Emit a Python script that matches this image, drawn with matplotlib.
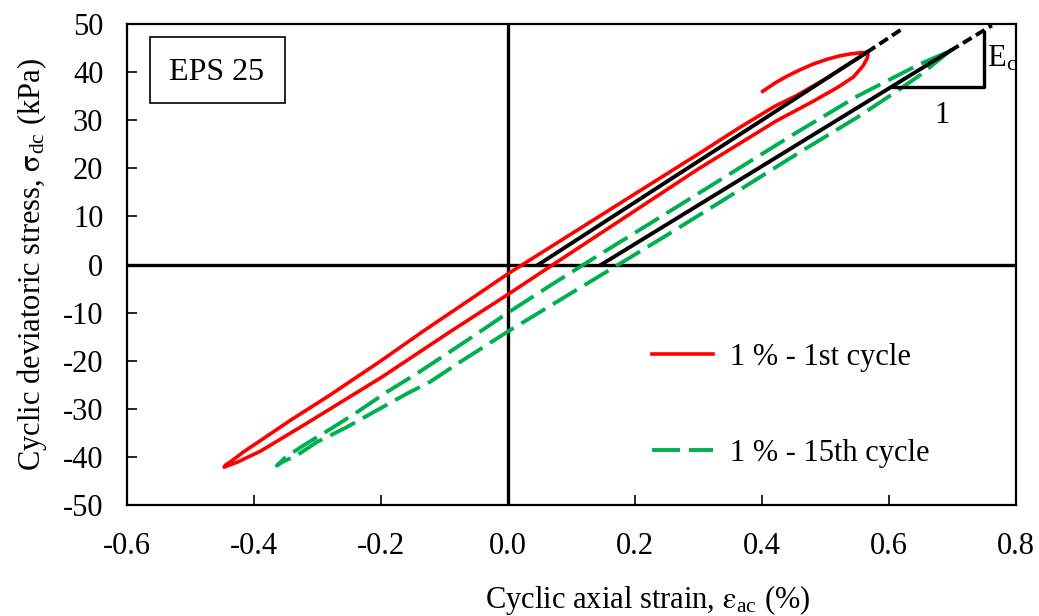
import matplotlib
matplotlib.use("Agg")
import matplotlib.pyplot as plt
from matplotlib.patches import Rectangle

plt.rcParams['font.family'] = ['Liberation Serif', 'DejaVu Serif']
plt.rcParams['mathtext.fontset'] = 'stix'
plt.rcParams['axes.unicode_minus'] = False

# 1 % - 1st cycle (red loop): start, up to peak, unload, reload
red_x = [0.401, 0.42, 0.44, 0.46, 0.481, 0.503, 0.523, 0.540, 0.553, 0.565,
         0.567, 0.565, 0.559, 0.544, 0.52, 0.48, 0.423, 0.30, 0.20, 0.071, 0.0, -0.087, -0.20, -0.317,
         -0.39, -0.425, -0.441, -0.447,
         -0.445, -0.436, -0.415, -0.39, -0.343, -0.28, -0.20, -0.133, -0.06, 0.0, 0.023, 0.10, 0.20, 0.30,
         0.365, 0.42, 0.454, 0.50, 0.565]
red_y = [36.0, 37.7, 39.2, 40.5, 41.7, 42.7, 43.4, 43.8, 44.0, 44.1,
         43.6, 42.7, 41.3, 39.0, 36.9, 33.9, 29.9, 19.9, 11.2, 0.0, -6.2, -13.6, -23.5, -33.0,
         -38.8, -41.0, -41.8, -42.1,
         -41.7, -40.9, -38.8, -36.6, -32.4, -27.1, -20.0, -13.8, -7.3, -1.9, 0.0, 6.4, 14.7, 23.0,
         28.5, 32.9, 35.1, 38.6, 44.1]

# 1 % - 15th cycle (green dashed loop)
green_x = [0.696, 0.65, 0.612, 0.55, 0.46, 0.35, 0.25, 0.174, 0.10, 0.0, -0.076, -0.123, -0.144, -0.160,
           -0.212, -0.254, -0.301, -0.333, -0.355, -0.364,
           -0.350, -0.322, -0.275, -0.238, -0.191, -0.144, -0.097, -0.049, 0.0, 0.066, 0.119, 0.25, 0.35,
           0.455, 0.55, 0.649, 0.696]
green_y = [44.4, 39.5, 36.0, 30.6, 23.4, 14.3, 6.1, 0.0, -5.9, -13.9, -20.3, -24.4, -25.8, -26.9,
           -30.7, -33.8, -36.9, -39.7, -41.0, -41.8,
           -40.0, -37.6, -33.8, -30.7, -26.5, -22.7, -18.6, -14.4, -10.0, -4.4, 0.0, 10.7, 18.9,
           27.5, 35.0, 41.7, 44.4]

# modulus lines (solid part and dotted extension)
black1_x = [0.048, 0.565]
black1_y = [0.0, 44.1]
black1_ext_x = [0.565, 0.622]
black1_ext_y = [44.1, 49.1]
black2_x = [0.147, 0.696]
black2_y = [0.0, 44.4]
black2_ext_x = [0.696, 0.762]
black2_ext_y = [44.4, 49.7]

# slope triangle
tri_x = [0.607, 0.75, 0.75]
tri_y = [37.0, 37.0, 48.4]

fig = plt.figure(figsize=(10.39, 6.16), dpi=100)
ax = fig.add_axes([0.1222, 0.180, 0.8557, 0.781])

ax.axhline(0, color='black', lw=2.4, zorder=1)
ax.axvline(0, color='black', lw=2.4, zorder=1)

ax.plot(red_x, red_y, color='#FF0000', lw=2.6, label='1 % - 1st cycle', zorder=2)
ax.plot(green_x, green_y, color='#00B050', lw=2.8, dashes=(7.2, 2.3), label='1 % - 15th cycle', zorder=2)

ax.plot(black1_x, black1_y, color='black', lw=2.8, zorder=3)
ax.plot(black2_x, black2_y, color='black', lw=2.8, zorder=3)
ax.plot(black1_ext_x, black1_ext_y, color='black', lw=2.8, dashes=(2.6, 1.3), zorder=3)
ax.plot(black2_ext_x, black2_ext_y, color='black', lw=2.8, dashes=(2.6, 1.3), zorder=3)
ax.plot(tri_x, tri_y, color='black', lw=2.4, zorder=3)

ax.text(0.755, 42.6, 'E$_\\mathregular{c}$', fontsize=22, ha='left', va='center')
ax.text(0.683, 31.0, '1', fontsize=22, ha='center', va='center')

ax.add_patch(Rectangle((0.0259, 0.8358), 0.1519, 0.1372, transform=ax.transAxes,
                       fill=False, lw=1.2, edgecolor='black'))
ax.text(0.1012, 0.900, 'EPS 25', transform=ax.transAxes, fontsize=23, ha='center', va='center')

ax.set_xlim(-0.6, 0.8)
ax.set_ylim(-50, 50)
ax.set_xticks([-0.6, -0.4, -0.2, 0.0, 0.2, 0.4, 0.6, 0.8])
ax.set_xticklabels(['-0.6', '-0.4', '-0.2', '0.0', '0.2', '0.4', '0.6', '0.8'])
ax.set_yticks(range(-50, 51, 10))
ax.tick_params(direction='in', length=7, width=1.2, labelsize=22)
ax.tick_params(axis='x', pad=19)
ax.tick_params(axis='y', pad=17)
for s in ax.spines.values():
    s.set_linewidth(1.6)

ax.set_xlabel('Cyclic axial strain, $\\mathrm{\\epsilon}_\\mathregular{ac}$ (%)', fontsize=22,
              labelpad=16, x=0.586)
ax.set_ylabel('Cyclic deviatoric stress, $\\mathrm{\\sigma}_\\mathregular{dc}$ (kPa)', fontsize=22, labelpad=10)

ax.legend(loc='upper left', bbox_to_anchor=(0.5906, 0.338), frameon=False, fontsize=22,
          handlelength=2.0, handletextpad=0.55, labelspacing=2.2, borderpad=0, borderaxespad=0)

fig.savefig('out.png', dpi=100)
